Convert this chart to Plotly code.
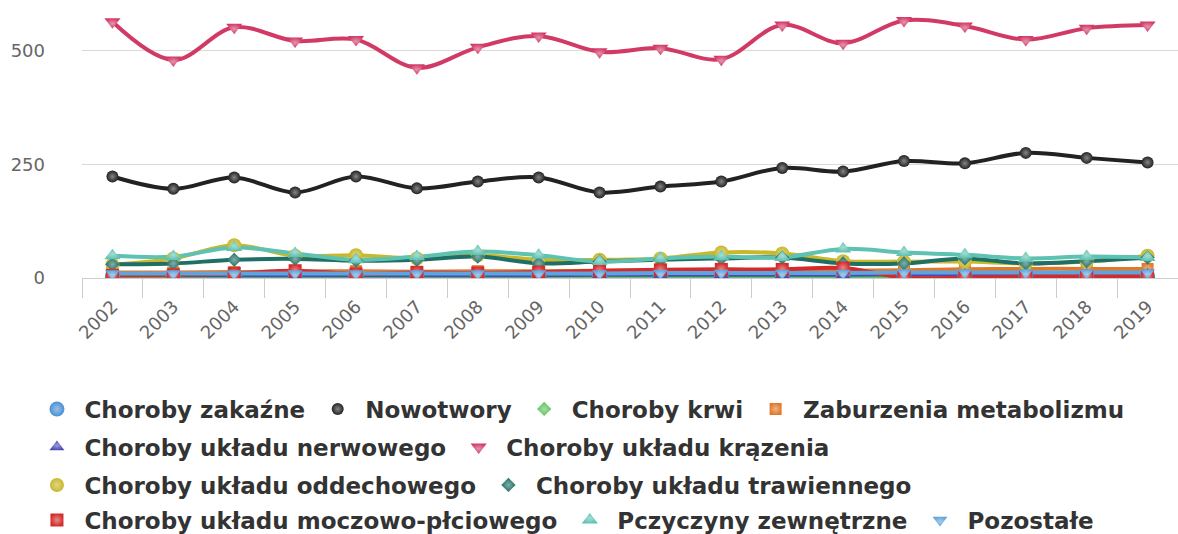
import plotly.graph_objects as go

years = [str(y) for y in range(2002, 2020)]

zakazne = [3, 3, 3, 2, 3, 3, 3, 3, 3, 3, 3, 3, 3, 3, 3, 3, 3, 3]
nowotwory = [223, 196, 221, 188, 223, 197, 212, 221, 188, 201, 212, 242, 234, 257, 252, 275, 264, 254]
krwi = [2, 2, 2, 2, 2, 2, 2, 2, 2, 2, 2, 2, 2, 2, 2, 2, 2, 2]
metabolizm = [12, 12, 13, 14, 15, 14, 15, 15, 16, 16, 17, 16, 16, 17, 19, 20, 20, 20]
nerwowy = [6, 6, 6, 6, 6, 6, 6, 6, 7, 7, 7, 7, 7, 8, 8, 8, 8, 8]
krazenie = [563, 479, 551, 521, 524, 462, 507, 532, 497, 505, 481, 556, 516, 566, 554, 524, 549, 556]
oddechowy = [29, 43, 72, 49, 50, 43, 50, 40, 40, 43, 56, 54, 37, 36, 36, 32, 36, 49]
trawienny = [30, 32, 40, 42, 38, 40, 47, 32, 36, 40, 43, 45, 32, 32, 43, 32, 37, 45]
moczowy = [6, 7, 10, 16, 9, 12, 11, 13, 16, 18, 19, 19, 22, 1, 1, 3, 4, 4]
zewnetrzne = [49, 47, 67, 54, 40, 47, 58, 50, 36, 43, 47, 45, 64, 56, 51, 43, 47, 45]
pozostale = [10, 10, 10, 10, 10, 10, 10, 10, 10, 11, 11, 11, 11, 12, 12, 12, 12, 12]

# nazwa, dane, kolor, symbol, rozmiar markera, wiersz legendy
series = [
    ('Choroby zakaźne', zakazne, '#4a8fd4', 'circle', 15, 'legend'),
    ('Nowotwory', nowotwory, '#222222', 'circle', 12, 'legend'),
    ('Choroby krwi', krwi, '#5cc45c', 'diamond', 11, 'legend'),
    ('Zaburzenia metabolizmu', metabolizm, '#e07a2a', 'square', 12, 'legend'),
    ('Choroby układu nerwowego', nerwowy, '#4a4ab4', 'triangle-up', 13, 'legend2'),
    ('Choroby układu krązenia', krazenie, '#d23a66', 'triangle-down', 14, 'legend2'),
    ('Choroby układu oddechowego', oddechowy, '#c8b82a', 'circle', 14, 'legend3'),
    ('Choroby układu trawiennego', trawienny, '#1f6f66', 'diamond', 11, 'legend3'),
    ('Choroby układu moczowo-płciowego', moczowy, '#d42a2a', 'square', 13, 'legend4'),
    ('Pczyczyny zewnętrzne', zewnetrzne, '#5ec2b2', 'triangle-up', 14, 'legend4'),
    ('Pozostałe', pozostale, '#5ea4de', 'triangle-down', 13, 'legend4'),
]


def lighter(hex_color, f=0.45):
    r, g, b = (int(hex_color[i:i + 2], 16) for i in (1, 3, 5))
    r, g, b = (int(c + (255 - c) * f) for c in (r, g, b))
    return f'rgb({r},{g},{b})'


fig = go.Figure()

# najpierw linie (wygładzone)
for name, vals, color, symbol, size, leg in series:
    fig.add_trace(go.Scatter(
        x=years,
        y=vals,
        name=name,
        mode='lines',
        showlegend=False,
        hoverinfo='skip',
        line=dict(color=color, width=4, shape='spline', smoothing=1),
    ))

# potem markery - one trafiają do legendy
for name, vals, color, symbol, size, leg in series:
    fig.add_trace(go.Scatter(
        x=years,
        y=vals,
        name=name,
        mode='markers',
        legend=leg,
        marker=dict(
            color=color,
            symbol=symbol,
            size=size,
            line=dict(width=0),
            gradient=dict(type='radial', color=lighter(color)),
        ),
    ))

legend_font = dict(family='DejaVu Sans', size=23, color='#333333', weight='bold')
legend_common = dict(
    orientation='h',
    xref='container',
    yref='container',
    x=0.025,
    xanchor='left',
    yanchor='middle',
    font=legend_font,
    itemwidth=45,
    bgcolor='rgba(0,0,0,0)',
)

fig.update_layout(
    width=1178,
    height=534,
    paper_bgcolor='white',
    plot_bgcolor='white',
    margin=dict(l=82, r=0, t=5, b=256),
    font=dict(family='DejaVu Sans', color='#555555'),
    legend=dict(legend_common, y=1 - 409 / 534),
    legend2=dict(legend_common, y=1 - 447 / 534),
    legend3=dict(legend_common, y=1 - 485 / 534),
    legend4=dict(legend_common, y=1 - 520 / 534),
)

fig.update_xaxes(
    type='category',
    tickangle=-45,
    tickfont=dict(size=18, color='#666666'),
    ticks='outside',
    tickson='boundaries',
    ticklen=19,
    tickcolor='#cccccc',
    ticklabelstandoff=10,
    showline=True,
    linecolor='#cccccc',
    linewidth=1,
    showgrid=False,
    automargin=False,
    range=[-0.5, 17.5],
)

fig.update_yaxes(
    range=[0, 600],
    tickvals=[0, 250, 500],
    tickfont=dict(size=18, color='#666666'),
    gridcolor='#d9d9d9',
    gridwidth=1,
    zeroline=False,
    showline=False,
    automargin=False,
    ticklabelstandoff=36,
)

# bez domyślnego marginesu strony, żeby wykres zaczynał się w (0, 0)
fig.write_html(
    "out.html",
    config={'displayModeBar': False},
    post_script="document.body.style.margin='0';",
)
